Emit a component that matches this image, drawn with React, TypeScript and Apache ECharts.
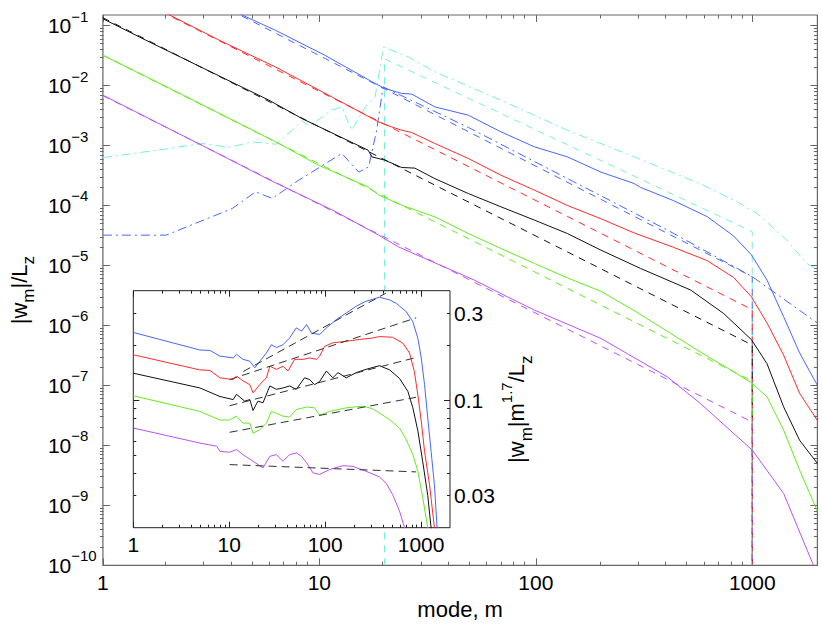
import { useEffect, useRef } from 'react';
import * as echarts from 'echarts';

type P = [number, number];

const FONT = '"Liberation Sans", Arial, Helvetica, sans-serif';

// ---------------- main panel: |w_m|/L_z against mode m (curves offset as drawn) ----------------
const mainBlue: P[] = [
  [1, 2.3], [2, 0.65], [3, 0.3], [4.41, 0.149], [6.27, 0.0835], [10.6, 0.032], [18.1, 0.0108],
  [20.1, 8.9e-3], [24, 7.4e-3], [26.7, 7.2e-3], [34.2, 4.4e-3], [48.8, 3.2e-3], [69, 1.69e-3],
  [98.6, 9.5e-4], [140, 6.46e-4], [200, 3.6e-4], [284, 2.33e-4], [305, 2.0e-4], [434, 1.2e-4],
  [620, 6.5e-5], [820, 3.1e-5], [991, 1.5e-5], [1170, 5.7e-6], [1396, 1.4e-6], [1654, 3.5e-7],
  [2000, 1.0e-7],
];
const mainRed: P[] = [
  [1, 0.53], [2.04, 0.149], [3.45, 0.0569], [6.27, 0.0204], [11.8, 6.07e-3], [18.8, 2.47e-3],
  [21.6, 2.04e-3], [24, 1.8e-3], [26.7, 1.65e-3], [34.2, 1.08e-3], [48.8, 6.07e-4], [69, 3.2e-4],
  [98.6, 1.8e-4], [140, 1.0e-4], [200, 6.0e-5], [284, 3.5e-5], [434, 2.0e-5], [620, 1.2e-5],
  [820, 6.3e-6], [991, 3.0e-6], [1170, 1.1e-6], [1396, 3.2e-7], [1654, 7.4e-8], [2000, 2.6e-8],
];
const mainBlack: P[] = [
  [1, 0.13], [1.58, 0.0569], [5.85, 5.69e-3], [8.3, 2.82e-3], [16.8, 8.35e-4], [17.5, 6.46e-4],
  [20.1, 5.69e-4], [24, 4.3e-4], [27.6, 4.2e-4], [34.2, 2.8e-4], [48.8, 1.58e-4], [69, 9.5e-5],
  [98.6, 5.7e-5], [140, 3.4e-5], [200, 1.8e-5], [305, 8.9e-6], [519, 3.9e-6], [738, 1.58e-6],
  [991, 5.8e-7], [1170, 2.3e-7], [1396, 4.4e-8], [1654, 1.22e-8], [2000, 5.0e-9],
];
const mainGreen: P[] = [
  [1, 0.032], [2.03, 9.0e-3], [4.11, 2.5e-3], [6.5, 1.08e-3], [9.9, 4.7e-4], [16.8, 2.04e-4],
  [18.8, 1.5e-4], [24, 1.01e-4], [34.2, 6.46e-5], [48.8, 3.4e-5], [69, 1.92e-5], [98.6, 1.08e-5],
  [140, 6.2e-6], [200, 3.7e-6], [290, 1.7e-6], [576, 3.6e-7], [821, 1.69e-7], [1000, 1.08e-7],
  [1170, 6.46e-8], [1396, 1.8e-8], [1654, 3.9e-9], [2000, 8e-10],
];
const mainPurple: P[] = [
  [1, 6.9e-3], [2.88, 1.0e-3], [5.85, 2.7e-4], [11.8, 8.0e-5], [18.8, 3.2e-5], [23.2, 2.04e-5],
  [40.7, 8.4e-6], [52, 5.7e-6], [74, 3.0e-6], [98.6, 1.8e-6], [200, 6.07e-7], [405, 1.39e-7],
  [576, 5.0e-8], [821, 1.58e-8], [1000, 8.35e-9], [1396, 1.58e-9], [1918, 1.0e-10], [2000, 6e-11],
];
// dash-dot curves
const mainBlueDashDot: P[] = [
  [1, 3.2e-5], [1.96, 3.2e-5], [3.96, 8.9e-5], [5.08, 1.69e-4], [6.06, 1.31e-4], [8.03, 2.64e-4],
  [10.1, 4.4e-4], [12.7, 7.4e-4], [15.2, 3.6e-4], [16.9, 4.4e-4], [18.4, 1.8e-3], [19.7, 9.5e-3],
  [48.8, 2.0e-3], [405, 3.9e-5], [1000, 6.5e-6], [1918, 1.22e-6], [2000, 1.1e-6],
];
const mainCyanDashDot: P[] = [
  [1, 6.3e-4], [2.03, 8.9e-4], [2.88, 1.08e-3], [3.83, 9.3e-4], [4.9, 1.15e-3], [6.3, 1.05e-3],
  [7.6, 1.9e-3], [8.3, 2.6e-3], [9, 2.1e-3], [11.4, 3.9e-3], [12.7, 4.4e-3], [14.1, 1.8e-3],
  [16.3, 4.4e-3], [18.1, 6.5e-3], [19.8, 4.4e-2], [25.8, 3.0e-2], [34.2, 1.69e-2], [69, 5.7e-3],
  [140, 1.8e-3], [284, 6.5e-4], [576, 2.3e-4], [821, 1.23e-4], [1052, 7.4e-5], [1445, 2.64e-5],
  [1786, 1.08e-5], [2000, 8.5e-6],
];
// dashed power-law fits (dropping to the axis floor at their cut-off)
const FLOOR = 1e-10;
const fitBlue: P[] = [[1, 2.2], [1000, 6.5e-6], [1000, FLOOR]];
const fitRed: P[] = [[1, 0.53], [1000, 1.83e-6], [1000, FLOOR]];
const fitBlack: P[] = [[1, 0.135], [1000, 4.7e-7], [1000, FLOOR]];
const fitGreen: P[] = [[1, 0.032], [1000, 1.18e-7], [1000, FLOOR]];
const fitPurple: P[] = [[1, 6.8e-3], [1000, 2.45e-8], [1000, FLOOR]];
const fitCyan: P[] = [[20, FLOOR], [20, 0.028], [1000, 3.66e-5], [1000, FLOOR]];

// ---------------- inset: |w_m| m^1.7 / L_z ----------------
const insetBlue: P[] = [
  [1, 0.236], [4.94, 0.189], [6.3, 0.188], [8, 0.175], [11, 0.171], [11.9, 0.179], [13.9, 0.168],
  [16.4, 0.164], [18.5, 0.151], [20.8, 0.164], [24.4, 0.182], [27.5, 0.202], [31, 0.195],
  [36.3, 0.202], [42.6, 0.22], [50, 0.25], [56.8, 0.24], [64, 0.261], [72, 0.234], [87.6, 0.23],
  [103, 0.25], [130, 0.277], [166, 0.302], [211, 0.329], [266, 0.35], [368, 0.368], [470, 0.356],
  [551, 0.341], [700, 0.307], [820, 0.27], [925, 0.219], [1003, 0.171], [1086, 0.122],
  [1173, 0.08], [1270, 0.0525], [1376, 0.0345], [1467, 0.02], [1500, 0.017],
];
const insetRed: P[] = [
  [1, 0.178], [4.94, 0.147], [6.3, 0.146], [8, 0.133], [11, 0.13], [11.9, 0.136], [13.9, 0.128],
  [16.4, 0.122], [17.7, 0.11], [20.8, 0.122], [24.4, 0.133], [26.5, 0.154], [31, 0.148],
  [36.3, 0.154], [41, 0.145], [48, 0.168], [58.9, 0.168], [69, 0.171], [81, 0.168], [87.6, 0.175],
  [98.6, 0.198], [120, 0.207], [166, 0.211], [228, 0.216], [312, 0.22], [368, 0.224], [505, 0.222],
  [647, 0.206], [757, 0.182], [850, 0.144], [925, 0.107], [1003, 0.077], [1086, 0.0525],
  [1223, 0.0345], [1376, 0.02], [1420, 0.017],
];
const insetBlack: P[] = [
  [1, 0.141], [4.94, 0.117], [8, 0.105], [11, 0.101], [11.9, 0.108], [14.5, 0.099], [16.4, 0.101],
  [17.7, 0.088], [19.9, 0.099], [22.5, 0.097], [26.5, 0.12], [31, 0.115], [36.3, 0.117],
  [42.6, 0.12], [50, 0.115], [61, 0.133], [69, 0.13], [77.5, 0.122], [87.6, 0.127], [103, 0.145],
  [120, 0.133], [136, 0.142], [166, 0.133], [211, 0.142], [266, 0.148], [368, 0.155], [470, 0.147],
  [595, 0.132], [728, 0.112], [820, 0.091], [925, 0.068], [1040, 0.046], [1173, 0.03],
  [1270, 0.02], [1300, 0.018],
];
const insetGreen: P[] = [
  [1, 0.106], [4.94, 0.087], [8, 0.078], [10.1, 0.078], [11.9, 0.082], [13.9, 0.075], [16.4, 0.075],
  [17.7, 0.066], [20.8, 0.069], [24.4, 0.075], [27.5, 0.087], [31, 0.085], [36.3, 0.082],
  [42.6, 0.081], [50, 0.089], [64, 0.092], [77.5, 0.091], [87.6, 0.083], [111, 0.087],
  [166, 0.091], [247, 0.093], [312, 0.09], [368, 0.0853], [470, 0.0784], [595, 0.0705],
  [700, 0.0608], [820, 0.0504], [925, 0.0408], [1040, 0.0292], [1173, 0.02], [1200, 0.018],
];
const insetPurple: P[] = [
  [1, 0.0705], [4.94, 0.0583], [7.4, 0.056], [8, 0.0525], [10.1, 0.0519], [11.9, 0.0537],
  [13.9, 0.0504], [17.7, 0.0463], [22.5, 0.0426], [26.5, 0.0493], [31, 0.0504], [36.3, 0.0463],
  [42.6, 0.0504], [50, 0.0514], [56.8, 0.0493], [64, 0.0454], [74.6, 0.04], [87.6, 0.0392],
  [111, 0.0417], [153, 0.0438], [195, 0.0434], [267, 0.0408], [368, 0.038], [433, 0.035],
  [505, 0.0304], [595, 0.0247], [670, 0.0201], [700, 0.019],
];
const insetFitBlue: P[] = [[14, 0.144], [430, 0.388]];
const insetFitRed: P[] = [[10.1, 0.13], [888, 0.284]];
const insetFitBlack: P[] = [[10.1, 0.0935], [888, 0.172]];
const insetFitGreen: P[] = [[10.1, 0.0668], [888, 0.104]];
const insetFitPurple: P[] = [[10.1, 0.0444], [888, 0.0405]];

// ---------------- axes ----------------
const X_MIN = 1;
const X_MAX = 2000;
const Y_MIN = 1e-10;
const Y_MAX = 0.15;
const IN_Y_MIN = 0.02;
const IN_Y_MAX = 0.4;

const xMajor = [1, 10, 100, 1000];
const xMinor = [2, 3, 4, 5, 6, 7, 8, 9, 20, 30, 40, 50, 60, 70, 80, 90, 200, 300, 400, 500, 600, 700, 800, 900];
const yExponents = [-10, -9, -8, -7, -6, -5, -4, -3, -2, -1];
const yMajor = yExponents.map((e) => (e === -10 ? 1.0001e-10 : Math.pow(10, e)));
const minorMultipliers = [2, 3, 4, 5, 6, 7, 8, 9];
const yMinor: number[] = [];
yExponents.slice(0, 9).forEach((e) => minorMultipliers.forEach((k) => yMinor.push(k * Math.pow(10, e))));
const inYMajor = [0.1];
const inYMinor = [0.03, 0.04, 0.05, 0.06, 0.07, 0.08, 0.09, 0.2, 0.3];
const inYLabels = [0.03, 0.1, 0.3];

const C_BLUE = '#4866ff';
const C_RED = '#ff2a2a';
const C_BLACK = '#111111';
const C_GREEN = '#66ea1e';
const C_PURPLE = '#bb52f6';
const C_CYAN = '#78f0d6';
const C_FIT = '#303030';
const FRAME = '#666666';
const IN_FRAME = '#222222';

const MAIN_RECT = { left: 100, top: 15, width: 717.4, height: 550.3 };
const INSET_RECT = { left: 133.3, top: 290.7, width: 316.7, height: 237 };

const DASH = [7, 6];
const DASH_DOT = [9, 4, 2, 4];
const IN_DASH = [8, 5];

function tickAxis(
  gridIndex: number,
  position: string,
  min: number,
  max: number,
  ticks: number[],
  len: number,
  color: string,
  z: number,
  extra: any = {},
) {
  return {
    type: 'log',
    logBase: 10,
    gridIndex,
    position,
    min,
    max,
    z,
    axisLine: { show: false },
    splitLine: { show: false },
    minorTick: { show: false },
    axisTick: { show: true, inside: true, length: len, customValues: ticks, lineStyle: { color, width: 1 } },
    axisLabel: { show: false },
    ...extra,
  };
}

const nameRich = {
  n: { fontSize: 22, lineHeight: 36, fontFamily: FONT, color: '#000' },
  s: { fontSize: 17, lineHeight: 17, verticalAlign: 'bottom', fontFamily: FONT, color: '#000' },
  p: { fontSize: 15, lineHeight: 15, verticalAlign: 'top', fontFamily: FONT, color: '#000' },
};

function buildOption(): any {
  const xAxis = [
    tickAxis(0, 'bottom', X_MIN, X_MAX, xMajor, 7, FRAME, 1, {
      axisLabel: { show: true, customValues: xMajor, fontSize: 21, fontFamily: FONT, color: '#000', margin: 7, formatter: (v: number) => String(Math.round(v)) },
      name: 'mode, m',
      nameLocation: 'middle',
      nameGap: 32,
      nameTextStyle: { fontSize: 22, fontFamily: FONT, color: '#000' },
    }),
    tickAxis(0, 'top', X_MIN, X_MAX, xMajor, 7, FRAME, 1),
    tickAxis(1, 'bottom', X_MIN, X_MAX, xMinor, 3.5, FRAME, 1),
    tickAxis(1, 'top', X_MIN, X_MAX, xMinor, 3.5, FRAME, 1),
    tickAxis(2, 'bottom', X_MIN, X_MAX, xMajor, 6, IN_FRAME, 11, {
      axisLabel: { show: true, customValues: xMajor, fontSize: 21, fontFamily: FONT, color: '#000', margin: 6, formatter: (v: number) => String(Math.round(v)) },
    }),
    tickAxis(2, 'top', X_MIN, X_MAX, xMajor, 6, IN_FRAME, 11),
    tickAxis(3, 'bottom', X_MIN, X_MAX, xMinor, 3, IN_FRAME, 11),
    tickAxis(3, 'top', X_MIN, X_MAX, xMinor, 3, IN_FRAME, 11),
  ];
  const yAxis = [
    tickAxis(0, 'left', Y_MIN, Y_MAX, yMajor, 7, FRAME, 1, {
      axisLabel: {
        show: true,
        customValues: yMajor,
        align: 'left',
        margin: 55,
        formatter: (v: number) => `{b|10}{e|\u2212${Math.abs(Math.round(Math.log10(v)))}}`,
        rich: {
          b: { fontSize: 21, lineHeight: 34, fontFamily: FONT, color: '#000' },
          e: { fontSize: 15, lineHeight: 16, verticalAlign: 'top', fontFamily: FONT, color: '#000' },
        },
      },
      name: '{n||w}{s|m}{n||/L}{s|z}',
      nameLocation: 'middle',
      nameRotate: 90,
      nameGap: 65,
      nameTextStyle: { rich: nameRich },
    }),
    tickAxis(0, 'right', Y_MIN, Y_MAX, yMajor, 7, FRAME, 1),
    tickAxis(1, 'left', Y_MIN, Y_MAX, yMinor, 3.5, FRAME, 1),
    tickAxis(1, 'right', Y_MIN, Y_MAX, yMinor, 3.5, FRAME, 1),
    tickAxis(2, 'right', IN_Y_MIN, IN_Y_MAX, inYMajor, 6, IN_FRAME, 11, {
      axisLabel: { show: true, customValues: inYLabels, fontSize: 21, fontFamily: FONT, color: '#000', margin: 4, align: 'left', formatter: (v: number) => String(v) },
      name: '{n||w}{s|m}{n||m}{p|1.7}{n|/L}{s|z}',
      nameLocation: 'middle',
      nameRotate: 90,
      nameGap: 47,
      nameTextStyle: { rich: nameRich },
    }),
    tickAxis(2, 'left', IN_Y_MIN, IN_Y_MAX, inYMajor, 6, IN_FRAME, 11),
    tickAxis(3, 'right', IN_Y_MIN, IN_Y_MAX, inYMinor, 3, IN_FRAME, 11),
    tickAxis(3, 'left', IN_Y_MIN, IN_Y_MAX, inYMinor, 3, IN_FRAME, 11),
  ];

  const line = (name: string, data: P[], color: string, type: any, axisIdx: number, z: number) => ({
    name,
    type: 'line',
    data,
    xAxisIndex: axisIdx,
    yAxisIndex: axisIdx,
    showSymbol: false,
    symbol: 'none',
    silent: true,
    clip: true,
    z,
    lineStyle: { color, width: 1, type },
    emphasis: { disabled: true },
  });

  const series = [
    line('cyan fit', fitCyan, C_CYAN, DASH, 0, 2),
    line('cyan', mainCyanDashDot, C_CYAN, DASH_DOT, 0, 2),
    line('blue fit', fitBlue, C_BLUE, DASH, 0, 3),
    line('red fit', fitRed, C_RED, DASH, 0, 3),
    line('black fit', fitBlack, C_BLACK, DASH, 0, 3),
    line('green fit', fitGreen, C_GREEN, DASH, 0, 3),
    line('purple fit', fitPurple, C_PURPLE, DASH, 0, 3),
    line('blue forcing', mainBlueDashDot, C_BLUE, DASH_DOT, 0, 3),
    line('blue', mainBlue, C_BLUE, 'solid', 0, 4),
    line('red', mainRed, C_RED, 'solid', 0, 4),
    line('black', mainBlack, C_BLACK, 'solid', 0, 4),
    line('green', mainGreen, C_GREEN, 'solid', 0, 4),
    line('purple', mainPurple, C_PURPLE, 'solid', 0, 4),
    line('inset blue', insetBlue, C_BLUE, 'solid', 4, 12),
    line('inset red', insetRed, C_RED, 'solid', 4, 12),
    line('inset black', insetBlack, C_BLACK, 'solid', 4, 12),
    line('inset green', insetGreen, C_GREEN, 'solid', 4, 12),
    line('inset purple', insetPurple, C_PURPLE, 'solid', 4, 12),
    line('inset fit blue', insetFitBlue, C_FIT, IN_DASH, 4, 13),
    line('inset fit red', insetFitRed, C_FIT, IN_DASH, 4, 13),
    line('inset fit black', insetFitBlack, C_FIT, IN_DASH, 4, 13),
    line('inset fit green', insetFitGreen, C_FIT, IN_DASH, 4, 13),
    line('inset fit purple', insetFitPurple, C_FIT, IN_DASH, 4, 13),
  ];

  return {
    animation: false,
    backgroundColor: '#ffffff',
    textStyle: { fontFamily: FONT },
    grid: [
      { ...MAIN_RECT, show: true, borderColor: FRAME, borderWidth: 1.2, backgroundColor: 'transparent', z: 0 },
      { ...MAIN_RECT, show: false, z: 0 },
      { ...INSET_RECT, show: true, borderColor: IN_FRAME, borderWidth: 1, backgroundColor: '#ffffff', z: 10 },
      { ...INSET_RECT, show: false, z: 10 },
    ],
    xAxis,
    yAxis,
    series,
  };
}

export default function App() {
  const ref = useRef<HTMLDivElement>(null);
  useEffect(() => {
    if (!ref.current) return;
    const chart = echarts.init(ref.current, null, { renderer: 'svg' });
    chart.setOption(buildOption());
    return () => chart.dispose();
  }, []);
  return (
    <div
      ref={ref}
      style={{ position: 'fixed', left: 0, top: 0, width: 822, height: 627, background: '#ffffff' }}
    />
  );
}
